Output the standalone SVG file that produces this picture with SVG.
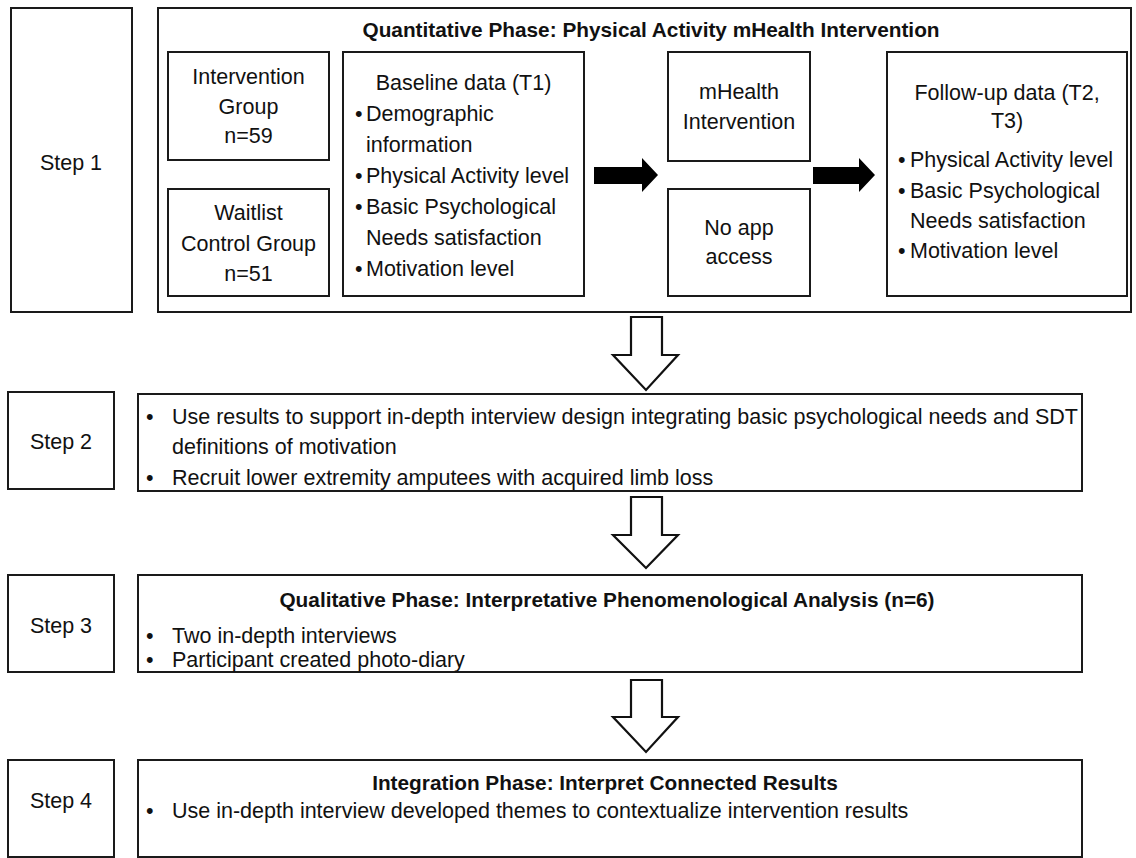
<svg xmlns="http://www.w3.org/2000/svg" width="1136" height="858" viewBox="0 0 1136 858">
  <style>
    .box { fill: #ffffff; stroke: #1a1a1a; stroke-width: 2; }
    .t { font-family: "Liberation Sans", Arial, sans-serif; font-size: 21.5px; fill: #111111; }
    .c { text-anchor: middle; }
    .b { font-weight: bold; font-size: 20.8px; }
    .solid { fill: #000000; }
    .hollow { fill: #ffffff; stroke: #111111; stroke-width: 2.2; stroke-linejoin: miter; }
  </style>
  <rect width="1136" height="858" fill="#ffffff"/>

  <!-- Step 1 -->
  <g id="step1">
    <rect class="box" x="11" y="8" width="121" height="304"/>
    <text class="t c" x="71" y="170">Step 1</text>
  </g>

  <!-- Quantitative phase container -->
  <g id="quantitative-phase">
    <rect class="box" x="158" y="8" width="973" height="304"/>
    <text class="t c b" x="651" y="37">Quantitative Phase: Physical Activity mHealth Intervention</text>
  </g>

  <g id="intervention-group">
    <rect class="box" x="168" y="52" width="161" height="108"/>
    <text class="t c" x="248.5" y="84">Intervention</text>
    <text class="t c" x="248.5" y="114">Group</text>
    <text class="t c" x="248.5" y="143">n=59</text>
  </g>

  <g id="waitlist-group">
    <rect class="box" x="168" y="189" width="161" height="107"/>
    <text class="t c" x="248.5" y="220">Waitlist</text>
    <text class="t c" x="248.5" y="251">Control Group</text>
    <text class="t c" x="248.5" y="281">n=51</text>
  </g>

  <g id="baseline-data">
    <rect class="box" x="343" y="52" width="241" height="244"/>
    <text class="t c" x="463.5" y="90">Baseline data (T1)</text>
    <text class="t" x="355" y="121">•</text><text class="t" x="366" y="121">Demographic</text>
    <text class="t" x="366" y="152">information</text>
    <text class="t" x="355" y="183">•</text><text class="t" x="366" y="183">Physical Activity level</text>
    <text class="t" x="355" y="214">•</text><text class="t" x="366" y="214">Basic Psychological</text>
    <text class="t" x="366" y="245">Needs satisfaction</text>
    <text class="t" x="355" y="276">•</text><text class="t" x="366" y="276">Motivation level</text>
  </g>

  <g id="mhealth-intervention">
    <rect class="box" x="668" y="52" width="142" height="109"/>
    <text class="t c" x="739" y="99">mHealth</text>
    <text class="t c" x="739" y="129">Intervention</text>
  </g>

  <g id="no-app-access">
    <rect class="box" x="668" y="189" width="142" height="107"/>
    <text class="t c" x="739" y="235">No app</text>
    <text class="t c" x="739" y="264">access</text>
  </g>

  <g id="follow-up-data">
    <rect class="box" x="887" y="52" width="240" height="244"/>
    <text class="t c" x="1007" y="100">Follow-up data (T2,</text>
    <text class="t c" x="1007" y="128">T3)</text>
    <text class="t" x="898" y="167">•</text><text class="t" x="910" y="167">Physical Activity level</text>
    <text class="t" x="898" y="198">•</text><text class="t" x="910" y="198">Basic Psychological</text>
    <text class="t" x="910" y="228">Needs satisfaction</text>
    <text class="t" x="898" y="258">•</text><text class="t" x="910" y="258">Motivation level</text>
  </g>

  <!-- Step 2 -->
  <g id="step2">
    <rect class="box" x="8" y="392" width="106" height="97"/>
    <text class="t c" x="61" y="449">Step 2</text>
  </g>
  <g id="step2-content">
    <rect class="box" x="138" y="394" width="944" height="97"/>
    <text class="t" x="146" y="424">•</text><text class="t" x="172" y="424">Use results to support in-depth interview design integrating basic psychological needs and SDT</text>
    <text class="t" x="172" y="454">definitions of motivation</text>
    <text class="t" x="146" y="485">•</text><text class="t" x="172" y="485">Recruit lower extremity amputees with acquired limb loss</text>
  </g>

  <!-- Step 3 -->
  <g id="step3">
    <rect class="box" x="8" y="575" width="106" height="97"/>
    <text class="t c" x="61" y="633">Step 3</text>
  </g>
  <g id="step3-content">
    <rect class="box" x="138" y="575" width="944" height="97"/>
    <text class="t c b" x="607" y="607">Qualitative Phase: Interpretative Phenomenological Analysis (n=6)</text>
    <text class="t" x="146" y="643">•</text><text class="t" x="172" y="643">Two in-depth interviews</text>
    <text class="t" x="146" y="667">•</text><text class="t" x="172" y="667">Participant created photo-diary</text>
  </g>

  <!-- Step 4 -->
  <g id="step4">
    <rect class="box" x="8" y="760" width="106" height="97"/>
    <text class="t c" x="61" y="808">Step 4</text>
  </g>
  <g id="step4-content">
    <rect class="box" x="138" y="760" width="944" height="97"/>
    <text class="t c b" x="605" y="790">Integration Phase: Interpret Connected Results</text>
    <text class="t" x="146" y="818">•</text><text class="t" x="172" y="818">Use in-depth interview developed themes to contextualize intervention results</text>
  </g>

  <!-- Connectors -->
  <g id="connectors">
    <path class="solid" d="M594,167 H642 V158 L658,175 L642,192 V184 H594 Z"/>
    <path class="solid" d="M813,167 H859 V158 L875,175 L859,192 V184 H813 Z"/>
    <path class="hollow" d="M631,317 H662 V355 H678 L646,390 L613,355 H631 Z"/>
    <path class="hollow" d="M631,497 H662 V535 H678 L646,568 L613,535 H631 Z"/>
    <path class="hollow" d="M631,680 H662 V717 H678 L646,752 L613,717 H631 Z"/>
  </g>
</svg>
